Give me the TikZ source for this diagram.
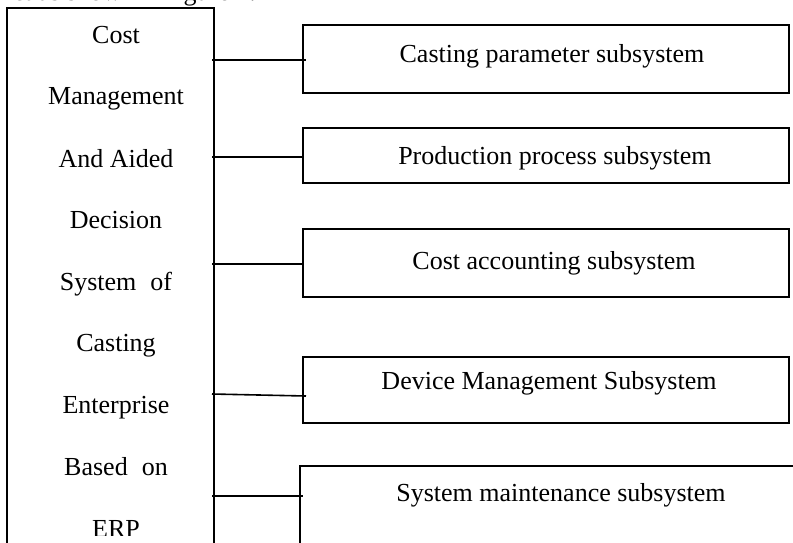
\documentclass[tikz,border=0pt]{standalone}
\usepackage{fontspec}
\setmainfont{Liberation Serif}
\begin{document}
\begin{tikzpicture}[x=1pt,y=-1pt,
  subbox/.style={draw, line width=1.6pt, inner sep=0pt, anchor=north west},
  lbl/.style={font=\fontsize{26}{30}\selectfont, anchor=base, inner sep=0pt},
  conn/.style={line width=1.6pt}]
\useasboundingbox (0,0) rectangle (793,542);
\begin{scope}
\clip (0,0) rectangle (793,542);
% caption fragment from the page above
\node[lbl, anchor=base west] (cap) at (13,0) {ct as shown in figure 1.};
% main system box (runs past the bottom edge)
\coordinate (lbl-bl) at (7,560);
\coordinate (lbl-tl) at (7,8);
\coordinate (lbl-tr) at (214,8);
\coordinate (lbl-br) at (214,560);
\draw[conn] (lbl-bl) -- (lbl-tl) -- (lbl-tr) -- (lbl-br);
% left texts
\node[lbl] (t1) at (116,43.5) {Cost};
\node[lbl] (t2) at (116,104.5) {Management};
\node[lbl] (t3) at (116,167) {And Aided};
\node[lbl] (t4) at (116,228.6) {Decision};
\node[lbl] (t5) at (116,290) {System\hspace{14pt}of};
\node[lbl] (t6) at (116,351.8) {Casting};
\node[lbl] (t7) at (116,413.4) {Enterprise};
\node[lbl] (t8) at (116,475) {Based\hspace{14pt}on};
\begin{scope}
\clip (0,0) rectangle (214,535);
\node[lbl] (t9) at (116,537) {ERP};
\end{scope}
% subsystem boxes
\node[subbox, minimum width=486pt, minimum height=68pt] (b1) at (302,24) {};
\node[subbox, minimum width=486pt, minimum height=55pt] (b2) at (302,127) {};
\node[subbox, minimum width=486pt, minimum height=68pt] (b3) at (302,228) {};
\node[subbox, minimum width=486pt, minimum height=66pt] (b4) at (302,356) {};
\coordinate (b5-bl) at (300,560);
\coordinate (b5-tl) at (300,466);
\coordinate (b5-tr) at (800,466);
\draw[conn] (b5-bl) -- (b5-tl) -- (b5-tr);
% subsystem texts
\node[lbl] (s1) at (552,62) {Casting parameter subsystem};
\node[lbl] (s2) at (555,164) {Production process subsystem};
\node[lbl] (s3) at (554,269) {Cost accounting subsystem};
\node[lbl] (s4) at (549,389) {Device Management Subsystem};
\node[lbl] (s5) at (561,501) {System maintenance subsystem};
% connectors
\coordinate (L1) at (212,60);
\coordinate (L2) at (212,157);
\coordinate (L3) at (212,264);
\coordinate (L4) at (212,394);
\coordinate (L5) at (212,496);
\coordinate (b5w) at (303,496);
\draw[conn] (L1) -- ([xshift=4pt]L1 -| b1.west);
\draw[conn] (L2) -- (L2 -| b2.west);
\draw[conn] (L3) -- (L3 -| b3.west);
\draw[conn] (L4) -- ([xshift=4pt,yshift=-2pt]L4 -| b4.west);
\draw[conn] (L5) -- (b5w);
\end{scope}
\end{tikzpicture}
\end{document}
